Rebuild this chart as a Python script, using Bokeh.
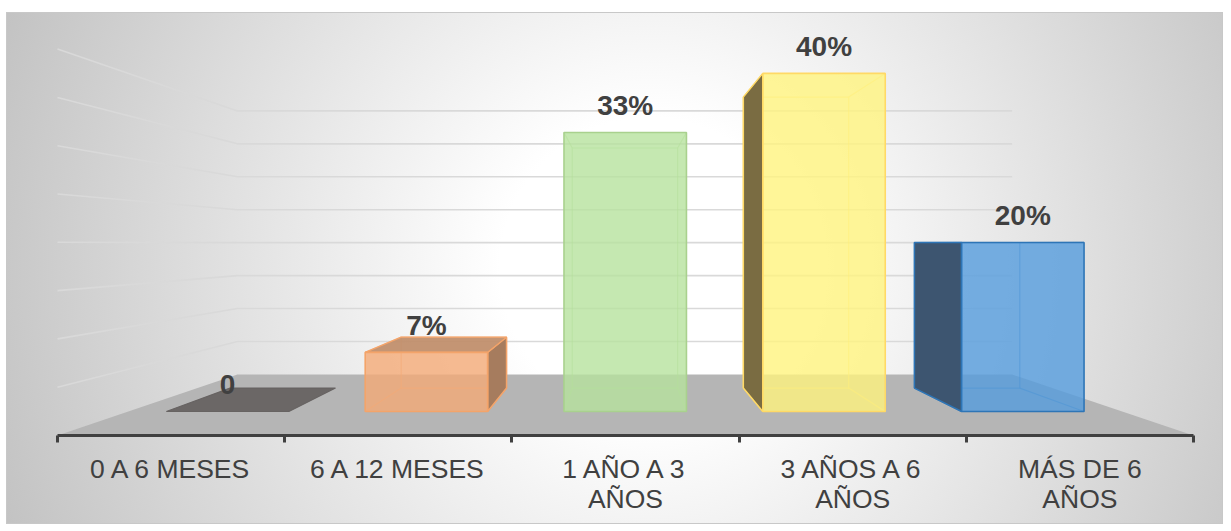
from bokeh.plotting import figure
from bokeh.models import ColumnDataSource, FixedTicker, LinearAxis, Range1d
from bokeh.core.properties import value
from bokeh.embed import file_html
from bokeh.resources import INLINE

# ---------------- data ----------------
categories = ["0 A 6 MESES", "6 A 12 MESES", "1 AÑO A 3\nAÑOS", "3 AÑOS A 6\nAÑOS", "MÁS DE 6\nAÑOS"]
values = [0, 7, 33, 40, 20]
grid_values = [5, 10, 15, 20, 25, 30, 35, 40]

# ---------------- styles ----------------
front_colors = ["#676362", "#F4AA77", "#B6E29D", "#FFF47E", "#559CDD"]
side_colors = ["#676362", "#A67C5E", "#8FB07A", "#7A6C42", "#3D5570"]
top_colors = ["#676362", "#C18F6D", "#A9CF90", "#FFE98A", "#4F86B9"]
edge_colors = ["#676362", "#F4A46A", "#A9D18E", "#FFD966", "#2E75B6"]
TEXT = "#404040"
FONT = "Liberation Sans"

# ---------------- 3D view (perspective toward a vanishing point) ----------------
VX, VY = 2.49, 19.88          # vanishing point in front-plane data units
S_BAR_F, S_BAR_B, S_WALL = 0.875, 0.753, 0.682   # depth scale factors
HALF_W = 0.308


def proj(X, Y, s):
    return VX + (X - VX) * s, VY + (Y - VY) * s


def poly(pts):
    xs, ys = [], []
    for X, Y, s in pts:
        x, y = proj(X, Y, s)
        xs.append(x)
        ys.append(y)
    return xs, ys


n = len(categories)
PX_X = 227.2
PX_Y = 9.66
FW, FH = 1215, 422
x_start = -50 / PX_X
p = figure(frame_width=FW, frame_height=FH,
           x_range=Range1d(x_start, x_start + FW / PX_X),
           y_range=Range1d(0, FH / PX_Y),
           output_backend="svg", toolbar_location=None,
           x_axis_location=None, y_axis_location=None,
           min_border_left=0, min_border_right=0, min_border_top=0, min_border_bottom=88,
           margin=(13, 0, 0, 7),
           styles={"background": "radial-gradient(circle at 643px 255px, #ffffff 0px, #ffffff 150px, #c3c3c3 690px)",
                   "outline": "1px solid #c8c8c8"})
p.background_fill_alpha = 0
p.border_fill_alpha = 0
p.outline_line_color = None
p.xgrid.visible = False
p.ygrid.visible = False

# floor
fx, fy = poly([(0, 0, 1.0), (n, 0, 1.0), (n, 0, S_WALL), (0, 0, S_WALL)])
p.patch(fx, fy, fill_color="#b5b5b5", line_color=None)

# wall gridlines (left wall + back wall)
gxs, gys = [], []
for g in grid_values:
    xs, ys = poly([(0, g, 1.0), (0, g, S_WALL), (n, g, S_WALL)])
    gxs.append(xs)
    gys.append(ys)
p.multi_line(gxs, gys, line_color="#d9d9d9", line_width=1.6)

# bars
hid_xs, hid_ys, hid_c = [], [], []
side_xs, side_ys, side_c, side_e = [], [], [], []
top_xs, top_ys, top_c, top_e = [], [], [], []
fr_xs, fr_ys, fr_c, fr_e = [], [], [], []
lab_x, lab_y, lab_t = [], [], []
for i, v in enumerate(values):
    c = i + 0.5
    xl, xr = c - HALF_W, c + HALF_W
    cx, ty = proj(c, v, S_BAR_F)
    lab_x.append(cx)
    lab_y.append(ty)
    lab_t.append("0" if v == 0 else f"{v}%")
    if v == 0:
        xs, ys = poly([(xl, 0, S_BAR_F), (xr, 0, S_BAR_F), (xr, 0, S_BAR_B), (xl, 0, S_BAR_B)])
        top_xs.append(xs); top_ys.append(ys); top_c.append(top_colors[i]); top_e.append(edge_colors[i])
        continue
    # hidden edges seen through the translucent box
    for pts in ([(xl, 0, S_BAR_B), (xr, 0, S_BAR_B), (xr, v, S_BAR_B), (xl, v, S_BAR_B), (xl, 0, S_BAR_B)],
                [(xl, 0, S_BAR_F), (xl, 0, S_BAR_B)], [(xr, 0, S_BAR_F), (xr, 0, S_BAR_B)],
                [(xl, v, S_BAR_F), (xl, v, S_BAR_B)], [(xr, v, S_BAR_F), (xr, v, S_BAR_B)]):
        xs, ys = poly(pts)
        hid_xs.append(xs); hid_ys.append(ys); hid_c.append(edge_colors[i])
    if xl > VX:
        xs, ys = poly([(xl, 0, S_BAR_F), (xl, v, S_BAR_F), (xl, v, S_BAR_B), (xl, 0, S_BAR_B)])
        side_xs.append(xs); side_ys.append(ys); side_c.append(side_colors[i]); side_e.append(edge_colors[i])
    if xr < VX:
        xs, ys = poly([(xr, 0, S_BAR_F), (xr, v, S_BAR_F), (xr, v, S_BAR_B), (xr, 0, S_BAR_B)])
        side_xs.append(xs); side_ys.append(ys); side_c.append(side_colors[i]); side_e.append(edge_colors[i])
    if v < VY:
        xs, ys = poly([(xl, v, S_BAR_F), (xr, v, S_BAR_F), (xr, v, S_BAR_B), (xl, v, S_BAR_B)])
        top_xs.append(xs); top_ys.append(ys); top_c.append(top_colors[i]); top_e.append(edge_colors[i])
    xs, ys = poly([(xl, 0, S_BAR_F), (xr, 0, S_BAR_F), (xr, v, S_BAR_F), (xl, v, S_BAR_F)])
    fr_xs.append(xs); fr_ys.append(ys); fr_c.append(front_colors[i]); fr_e.append(edge_colors[i])

p.multi_line(xs="xs", ys="ys", line_color="c", line_alpha=0.55, line_width=1.2,
             source=ColumnDataSource(dict(xs=hid_xs, ys=hid_ys, c=hid_c)))
p.patches(xs="xs", ys="ys", fill_color="c", line_color="e", line_width=1.5,
          source=ColumnDataSource(dict(xs=side_xs, ys=side_ys, c=side_c, e=side_e)))
p.patches(xs="xs", ys="ys", fill_color="c", fill_alpha=0.95, line_color="e", line_width=1.2,
          source=ColumnDataSource(dict(xs=top_xs, ys=top_ys, c=top_c, e=top_e)))
p.patches(xs="xs", ys="ys", fill_color="c", fill_alpha=0.8, line_color="e", line_width=1.6,
          source=ColumnDataSource(dict(xs=fr_xs, ys=fr_ys, c=fr_c, e=fr_e)))

# data labels
p.text(x="x", y="y", text="t", source=ColumnDataSource(dict(x=lab_x, y=lab_y, t=lab_t)),
       y_offset=-27, text_align="center", text_baseline="middle",
       text_font=value(FONT), text_font_style="bold", text_font_size="28px", text_color=TEXT)

# category axis: ticks at category boundaries, labels at centres
axis = LinearAxis(ticker=FixedTicker(ticks=[i + 0.5 for i in range(n)], minor_ticks=list(range(n + 1))),
                  bounds=(0, n),
                  major_label_overrides={i + 0.5: categories[i] for i in range(n)})
axis.axis_line_color = TEXT
axis.axis_line_width = 3
axis.major_tick_line_color = None
axis.major_tick_out = 8
axis.major_tick_in = 0
axis.minor_tick_line_color = TEXT
axis.minor_tick_line_width = 3
axis.minor_tick_out = 7
axis.minor_tick_in = 0
axis.major_label_standoff = 10
axis.major_label_text_font = FONT
axis.major_label_text_font_size = "26.5px"
axis.major_label_text_line_height = 1.0
axis.major_label_text_color = TEXT
p.add_layout(axis, "below")

open("out.html", "w").write(file_html(p, INLINE))
